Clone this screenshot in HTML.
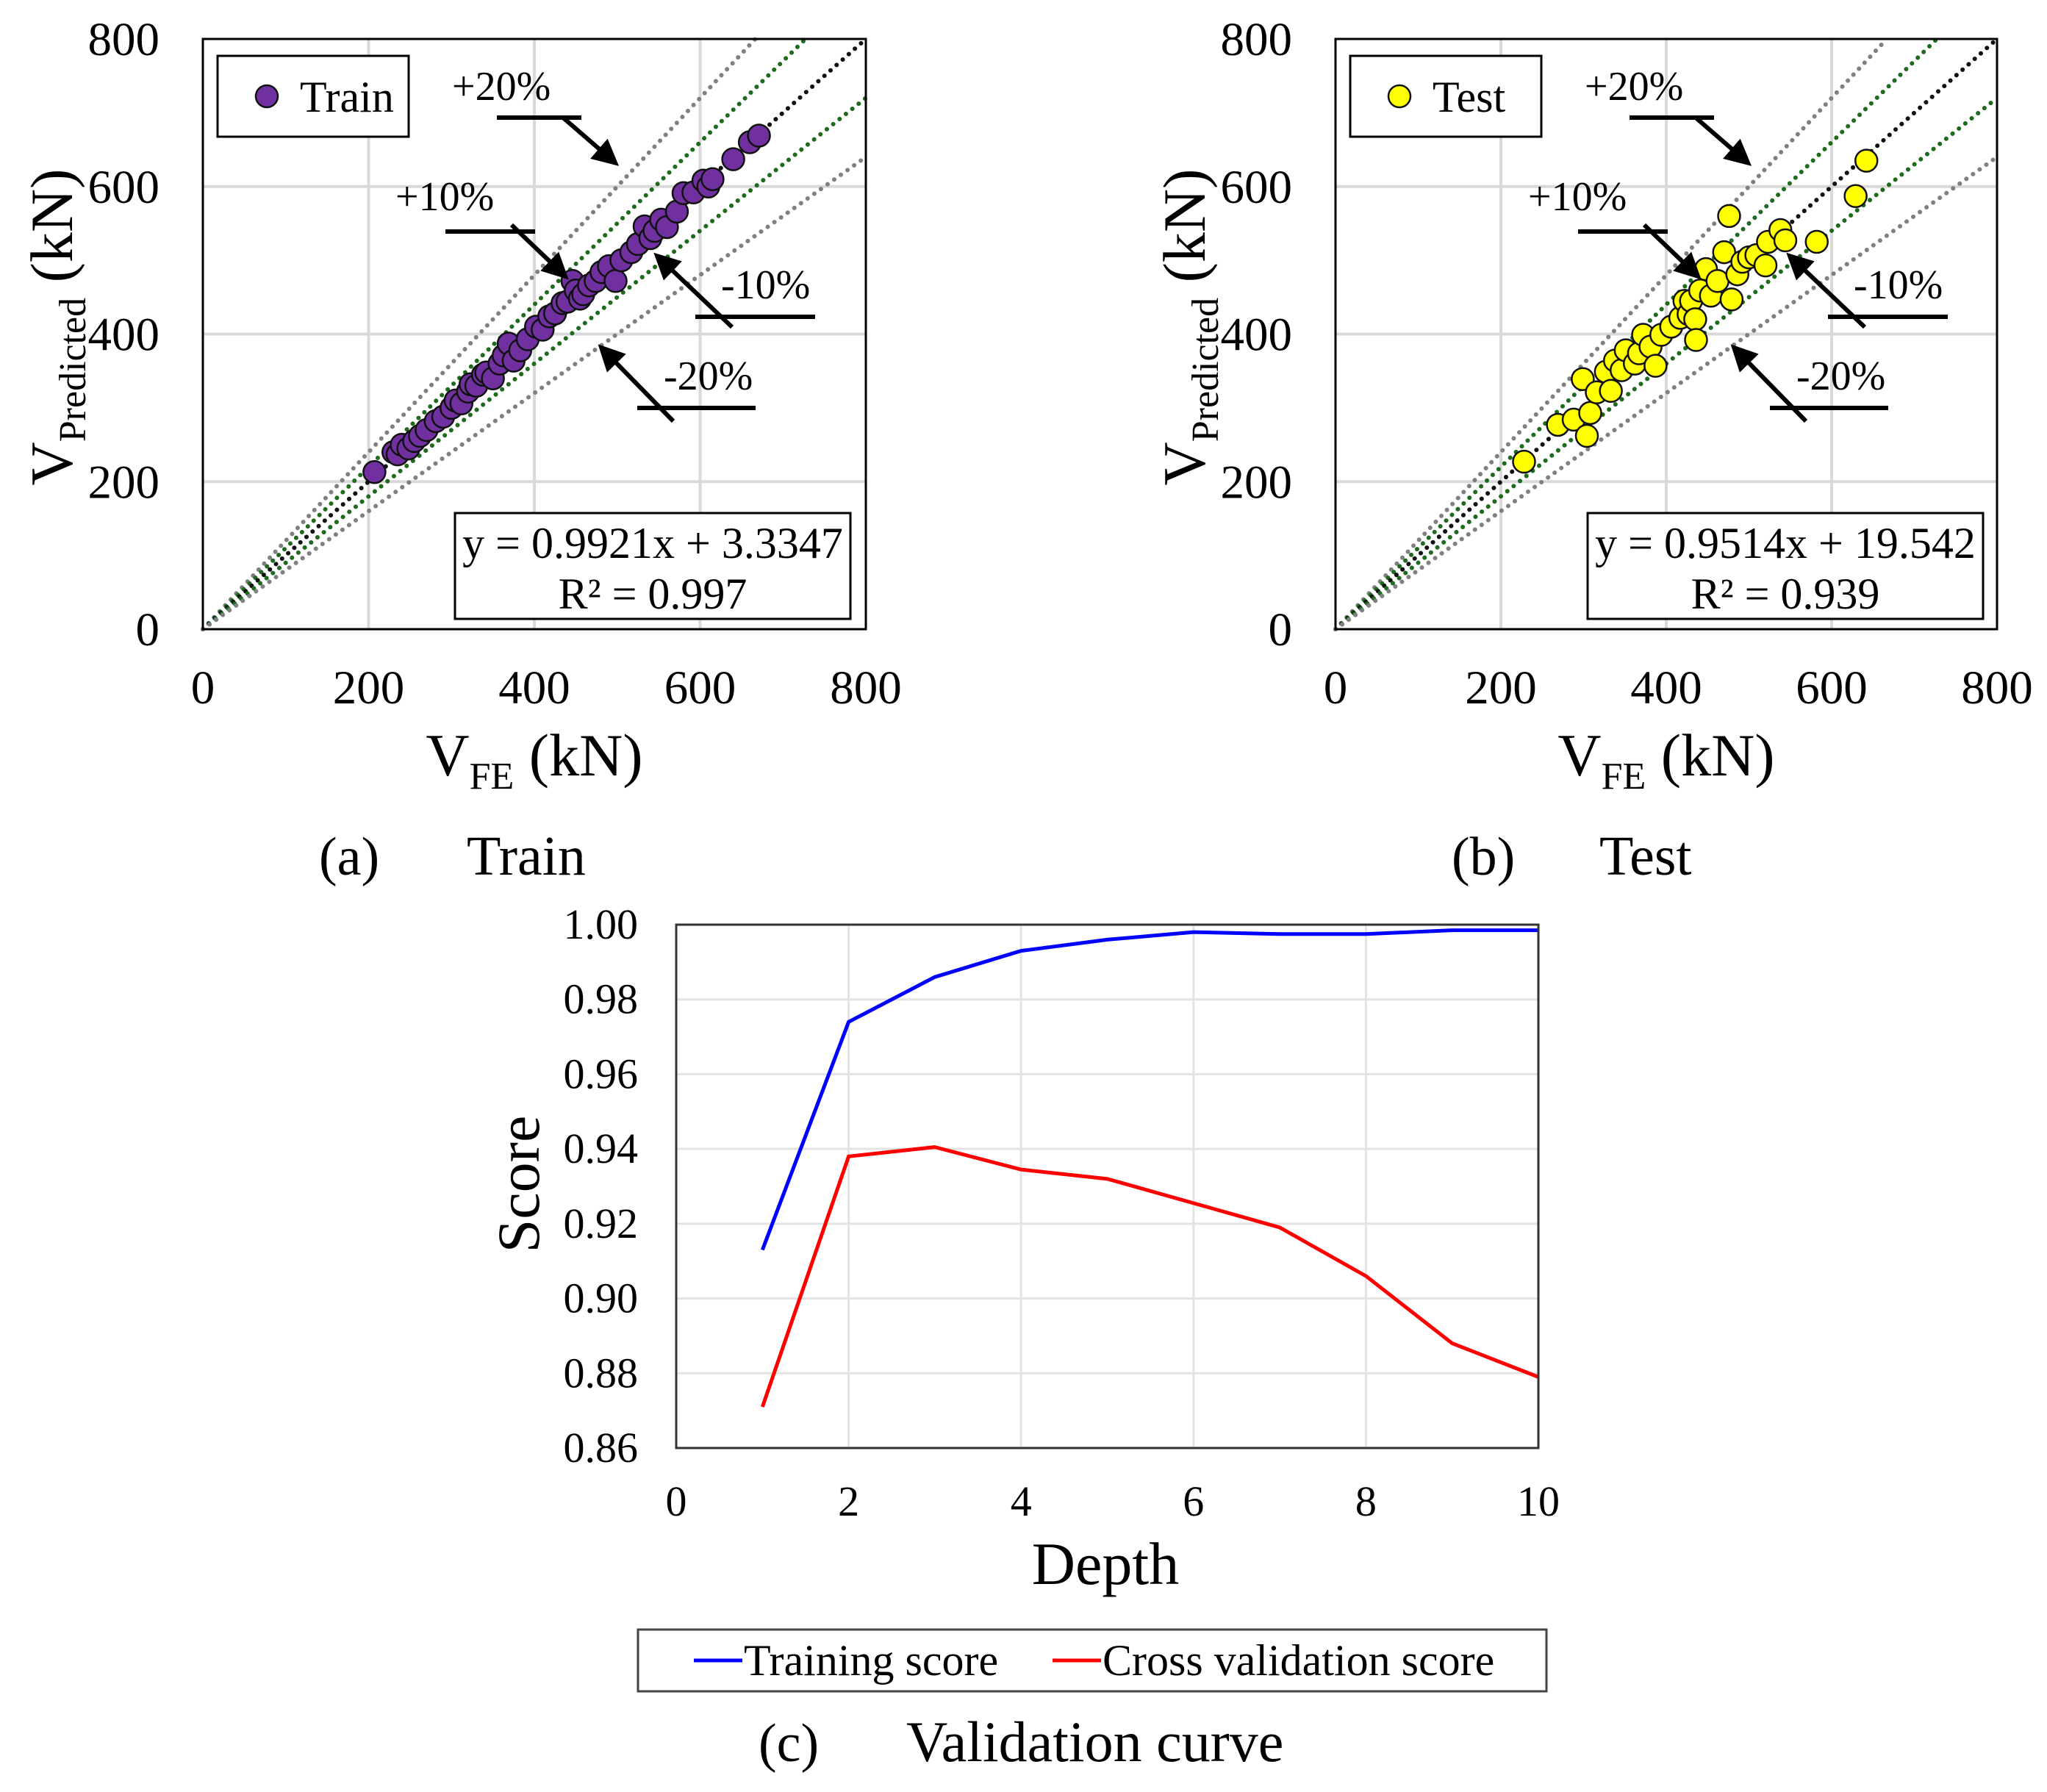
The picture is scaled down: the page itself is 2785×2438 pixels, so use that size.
<!DOCTYPE html>
<html><head><meta charset="utf-8"><style>
html,body{margin:0;padding:0;background:#fff;}
svg{display:block;font-family:"Liberation Serif",serif;}
</style></head><body>
<svg id="fig" width="2785" height="2438" viewBox="0 0 2785 2438" xmlns="http://www.w3.org/2000/svg">
<defs><marker id="ah" markerWidth="6" markerHeight="6" refX="4" refY="3" orient="auto" markerUnits="strokeWidth"><path d="M0,0 L6,3 L0,6 Z" fill="#000"/></marker></defs>
</svg>
<script>
// ---------- data ----------
const trainFE   = [207,230,235,240,248,255,262,270,281,290,300,305,312,320,323,330,338,342,350,358,363,369,375,383,392,402,410,418,425,434,440,446,450,455,459,466,474,481,490,498,505,517,525,533,540,545,553,560,572,580,592,604,610,615,640,660,671];
const trainPred = [213,240,237,250,245,255,262,270,282,288,300,310,306,322,332,330,345,348,340,360,371,387,364,378,393,410,406,424,428,442,444,472,459,448,454,466,472,484,492,472,500,511,522,546,530,540,555,545,566,591,592,608,600,610,637,660,669];
const testFE   = [228,269,288,299,304,308,316,327,333,338,346,351,362,367,372,381,387,394,406,417,422,427,430,435,436,441,448,454,462,470,476,479,486,492,500,509,520,523,538,544,582,629,642];
const testPred = [227,277,284,339,262,293,321,349,323,364,351,378,360,374,399,383,357,399,410,422,445,427,445,420,392,459,488,452,472,511,560,447,481,498,504,507,493,525,541,527,525,587,635];
const depth = [1,2,3,4,5,6,7,8,9,10];
const trainScore = [0.913,0.974,0.986,0.993,0.996,0.998,0.9975,0.9975,0.9985,0.9985];
const cvScore    = [0.871,0.938,0.9405,0.9345,0.932,0.9255,0.919,0.906,0.888,0.879];
const scatterTicks = [0,200,400,600,800];
const depthTicks = [0,2,4,6,8,10];
const scoreTicks = [0.86,0.88,0.90,0.92,0.94,0.96,0.98,1.00];

const NS='http://www.w3.org/2000/svg';
const svg=document.getElementById('fig');
function el(tag,attrs,parent,text){const e=document.createElementNS(NS,tag);for(const k in attrs)e.setAttribute(k,attrs[k]);if(text!==undefined)e.textContent=text;(parent||svg).appendChild(e);return e;}

function scatterPanel(id,L,R,T,B,fe,pred,color,r,legendLabel,eq1,eq2,capLetter,capText){
  const g=el('g',{});
  
  
  const sx=v=>L+(v/800)*(R-L), sy=v=>B-(v/800)*(B-T);
  scatterTicks.forEach(t=>{
    if(t>0&&t<800){
      const gl=el('line',{x1:sx(t),x2:sx(t),y1:T,y2:B,stroke:'#d9d9d9','stroke-width':4},g);
      
      
      const gh=el('line',{x1:L,x2:R,y1:sy(t),y2:sy(t),stroke:'#d9d9d9','stroke-width':4},g);
      
      
    }
    const xt=el('text',{x:sx(t),y:957,'font-size':65,'text-anchor':'middle'},g,String(t));
    
    
    const yt=el('text',{x:L-59,y:sy(t)+22,'font-size':65,'text-anchor':'end'},g,String(t));
    
    
  });
  const refs=[[1.2,'#808080'],[1.1,'#1e6b1e'],[1.0,'#111'],[0.9,'#1e6b1e'],[0.8,'#808080']];
  refs.forEach(([k,c])=>{
    const xe=Math.min(800,800/k);
    const ln=el('line',{x1:sx(0),y1:sy(0),x2:sx(xe),y2:sy(xe*k),stroke:c,'stroke-width':6,'stroke-dasharray':'0.1 11','stroke-linecap':'round'},g);
    
    
  });
  fe.forEach((v,i)=>{
    const c=el('circle',{cx:sx(v),cy:sy(pred[i]),r:r,fill:color,stroke:'#111','stroke-width':2.5},g);
    
    
  });
  const fr=el('rect',{x:L,y:T,width:R-L,height:B-T,fill:'none',stroke:'#000','stroke-width':3},g);
  
  
  const lg=el('g',{},g);
  
  
  el('rect',{x:L+20,y:76,width:260,height:110,fill:'#fff',stroke:'#000','stroke-width':3},lg);
  el('circle',{cx:L+87,cy:131,r:r,fill:color,stroke:'#111','stroke-width':2.5},lg);
  el('text',{x:L+132,y:152,'font-size':60},lg,legendLabel);
  const eb=el('g',{},g);
  
  
  el('rect',{x:L+343,y:698,width:538,height:144,fill:'#fff',stroke:'#000','stroke-width':3},eb);
  el('text',{x:L+612,y:759,'font-size':60,'text-anchor':'middle'},eb,eq1);
  el('text',{x:L+612,y:828,'font-size':60,'text-anchor':'middle'},eb,eq2);
  const ann=[['+20%',339,136,[[400,160],[515,160]],[[490,160],[557,218]]],
             ['+10%',262,286,[[330,315],[452,315]],[[420,306],[489,372]]],
             ['-10%',705,406,[[670,431],[833,431]],[[720,445],[622,352]]],
             ['-20%',627,530,[[591,555],[752,555]],[[640,573],[546,477]]]];
  ann.forEach(([t,tx,ty,ln,ar])=>{
    const a=el('g',{},g);
    
    
    el('text',{x:L+tx,y:ty,'font-size':56},a,t);
    el('line',{x1:L+ln[0][0],y1:ln[0][1],x2:L+ln[1][0],y2:ln[1][1],stroke:'#000','stroke-width':6},a);
    el('line',{x1:L+ar[0][0],y1:ar[0][1],x2:L+ar[1][0],y2:ar[1][1],stroke:'#000','stroke-width':6,'marker-end':'url(#ah)'},a);
  });
  const xtt=el('text',{x:(L+R)/2,y:1055,'font-size':82,'text-anchor':'middle'},g);
  
  
  el('tspan',{},xtt,'V');
  el('tspan',{'font-size':52,dy:18},xtt,'FE');
  el('tspan',{dy:-18},xtt,' (kN)');
  const ytt=el('text',{x:0,y:0,'font-size':82,'text-anchor':'middle',transform:`translate(${L-178},445) rotate(-90)`},g);
  
  
  el('tspan',{},ytt,'V');
  el('tspan',{'font-size':52,dy:18},ytt,'Predicted');
  el('tspan',{dy:-18},ytt,' (kN)');
  const cap=el('text',{x:L+158,y:1190,'font-size':74},g,capLetter);
  
  
  el('text',{x:L+359,y:1190,'font-size':76},g,capText);
}
scatterPanel('train',276,1178,53,856,trainFE,trainPred,'#7030a0',15,'Train','y = 0.9921x + 3.3347','R² = 0.997','(a)','Train');
scatterPanel('test',1817,2717,53,856,testFE,testPred,'#ffff00',15,'Test','y = 0.9514x + 19.542','R² = 0.939','(b)','Test');

(function(){
  const L=920,R=2093,T=1258,B=1970;
  const sx=v=>L+(v/10)*(R-L), sy=v=>B-((v-0.86)/0.14)*(B-T);
  const g=el('g',{});
  
  
  depthTicks.forEach(t=>{
    if(t>0&&t<10){const gl=el('line',{x1:sx(t),x2:sx(t),y1:T,y2:B,stroke:'#e3e3e3','stroke-width':3},g);
    
    }
    const tx=el('text',{x:sx(t),y:2062,'font-size':58,'text-anchor':'middle'},g,String(t));
    
    
  });
  scoreTicks.forEach(t=>{
    if(t>0.861&&t<0.999){const gl=el('line',{x1:L,x2:R,y1:sy(t),y2:sy(t),stroke:'#e3e3e3','stroke-width':3},g);
    
    }
    const ty=el('text',{x:868,y:sy(t)+19,'font-size':58,'text-anchor':'end'},g,t.toFixed(2));
    
    
  });
  const p1=el('polyline',{points:depth.map((d,i)=>sx(d)+','+sy(trainScore[i])).join(' '),fill:'none',stroke:'#0000ff','stroke-width':5},g);
  
  
  const p2=el('polyline',{points:depth.map((d,i)=>sx(d)+','+sy(cvScore[i])).join(' '),fill:'none',stroke:'#ff0000','stroke-width':5},g);
  
  
  const fr=el('rect',{x:L,y:T,width:R-L,height:B-T,fill:'none',stroke:'#333','stroke-width':3},g);
  
  
  const xt=el('text',{x:1504,y:2155,'font-size':82,'text-anchor':'middle'},g,'Depth');
  
  
  const yt=el('text',{x:0,y:0,'font-size':82,'text-anchor':'middle',transform:'translate(733,1611) rotate(-90)'},g,'Score');
  
  
  const lg=el('g',{},g);
  
  
  el('rect',{x:868,y:2217,width:1236,height:84,fill:'#fff',stroke:'#444','stroke-width':3},lg);
  el('line',{x1:944,x2:1010,y1:2259,y2:2259,stroke:'#0000ff','stroke-width':5},lg);
  el('text',{x:1012,y:2279,'font-size':60},lg,'Training score');
  el('line',{x1:1432,x2:1498,y1:2259,y2:2259,stroke:'#ff0000','stroke-width':5},lg);
  el('text',{x:1500,y:2279,'font-size':60},lg,'Cross validation score');
  const cap=el('text',{x:1032,y:2396,'font-size':74},g,'(c)');
  
  
  el('text',{x:1233,y:2396,'font-size':78},g,'Validation curve');
})();
</script>
</body></html>
